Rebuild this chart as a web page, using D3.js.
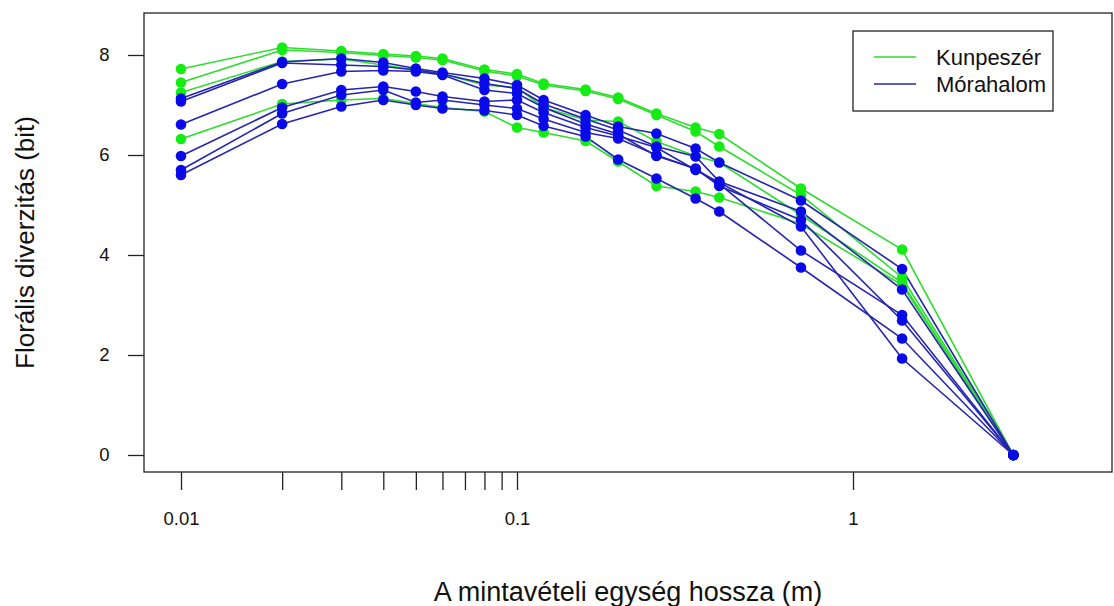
<!DOCTYPE html>
<html>
<head>
<meta charset="utf-8">
<script src="https://cdn.jsdelivr.net/npm/d3@7.9.0/dist/d3.min.js"></script>
<style>
  body { margin: 0; background: #fff; }
  text { font-family: "Liberation Sans", Arial, sans-serif; fill: #111; }
</style>
</head>
<body>
<svg id="chart" width="1114" height="606"></svg>
<script>
// sampling unit length (m)
const lengths = [0.01, 0.02, 0.03, 0.04, 0.05, 0.06, 0.08, 0.1, 0.12, 0.16, 0.2, 0.26, 0.34, 0.4, 0.7, 1.4, 3];

// Kunpeszér series
const kun1 = [7.72, 8.15, 8.08, 8.02, 7.98, 7.93, 7.71, 7.62, 7.43, 7.31, 7.15, 6.83, 6.55, 6.42, 5.33, 4.11, 0];
const kun2 = [7.45, 8.10, 8.05, 7.99, 7.95, 7.90, 7.68, 7.58, 7.40, 7.28, 7.12, 6.80, 6.47, 6.17, 5.20, 3.55, 0];
const kun3 = [7.25, 7.87, 7.92, 7.80, 7.70, 7.62, 7.40, 7.35, 6.95, 6.70, 6.67, 6.27, 5.98, 5.85, 4.80, 3.45, 0];
const kun4 = [6.32, 7.02, 7.10, 7.13, 7.03, 6.95, 6.87, 6.55, 6.45, 6.28, 5.87, 5.38, 5.27, 5.15, 4.62, 3.40, 0];

// Mórahalom series
const mor1 = [7.13, 7.86, 7.93, 7.85, 7.73, 7.65, 7.53, 7.40, 7.10, 6.80, 6.57, 6.43, 6.13, 5.85, 5.09, 3.72, 0];
const mor2 = [7.07, 7.84, 7.80, 7.77, 7.70, 7.62, 7.43, 7.33, 7.02, 6.72, 6.50, 6.17, 5.97, 5.47, 4.87, 3.31, 0];
const mor3 = [6.61, 7.42, 7.67, 7.69, 7.67, 7.60, 7.30, 7.23, 6.95, 6.62, 6.42, 5.98, 5.73, 5.38, 4.70, 2.69, 0];
const mor4 = [5.98, 6.95, 7.30, 7.37, 7.27, 7.17, 7.07, 7.10, 6.85, 6.55, 6.38, 6.15, 5.70, 5.45, 4.57, 1.93, 0];
const mor5 = [5.70, 6.83, 7.20, 7.30, 7.05, 7.10, 7.00, 6.93, 6.72, 6.45, 6.33, 6.00, 5.72, 5.42, 4.09, 2.80, 0];
const mor6 = [5.60, 6.62, 6.97, 7.10, 7.00, 6.93, 6.89, 6.80, 6.58, 6.37, 5.91, 5.53, 5.13, 4.87, 3.75, 2.33, 0];

const sites = ['Kunpeszér', 'Mórahalom'];
const xTicks = [0.01, 0.02, 0.03, 0.04, 0.05, 0.06, 0.07, 0.08, 0.09, 0.1, 1];
const xLabeled = [0.01, 0.1, 1];
const yTicks = [0, 2, 4, 6, 8];

const series = [
  { site: 0, values: kun1 }, { site: 0, values: kun2 }, { site: 0, values: kun3 }, { site: 0, values: kun4 },
  { site: 1, values: mor1 }, { site: 1, values: mor2 }, { site: 1, values: mor3 },
  { site: 1, values: mor4 }, { site: 1, values: mor5 }, { site: 1, values: mor6 }
];

const lineColor = ['#2fdc2f', '#2525b0'];
const dotColor = ['#14ec14', '#0a0ae8'];

const plotLeft = 144, plotRight = 1112, plotTop = 13, plotBottom = 472;

const svg = d3.select('#chart');

const xScale = d3.scaleLog()
  .domain([Math.pow(10, -2.1101), Math.pow(10, 0.7708)])
  .range([plotLeft, plotRight]);

const yScale = d3.scaleLinear()
  .domain([-0.34, 8.84])
  .range([plotBottom, plotTop]);

// lines + points
const line = d3.line()
  .x((d, i) => xScale(lengths[i]))
  .y(d => yScale(d));

const plot = svg.append('g');
series.forEach(s => {
  plot.append('path')
    .datum(s.values)
    .attr('d', line)
    .attr('fill', 'none')
    .attr('stroke', lineColor[s.site])
    .attr('stroke-width', 1.6);
});
series.forEach(s => {
  plot.append('g').selectAll('circle')
    .data(s.values)
    .join('circle')
    .attr('cx', (d, i) => xScale(lengths[i]))
    .attr('cy', d => yScale(d))
    .attr('r', 5.3)
    .attr('fill', dotColor[s.site]);
});

// axes
const xAxis = d3.axisBottom(xScale)
  .tickValues(xTicks)
  .tickSize(18)
  .tickPadding(22)
  .tickFormat(d => xLabeled.includes(d) ? String(d) : '');

const gx = svg.append('g')
  .attr('transform', `translate(0,${plotBottom})`)
  .call(xAxis)
  .attr('font-size', 18.5)
  .attr('font-family', null);
gx.select('.domain').remove();
gx.selectAll('line').attr('stroke', '#222').attr('stroke-width', 1.3);
gx.selectAll('text').attr('fill', '#111');

const yAxis = d3.axisLeft(yScale)
  .tickValues(yTicks)
  .tickSize(16)
  .tickPadding(18.5);

const gy = svg.append('g')
  .attr('transform', `translate(${plotLeft},0)`)
  .call(yAxis)
  .attr('font-size', 18.5)
  .attr('font-family', null);
gy.select('.domain').remove();
gy.selectAll('line').attr('stroke', '#222').attr('stroke-width', 1.3);
gy.selectAll('text').attr('fill', '#111');

// box
svg.append('rect')
  .attr('x', plotLeft).attr('y', plotTop)
  .attr('width', plotRight - plotLeft).attr('height', plotBottom - plotTop)
  .attr('fill', 'none').attr('stroke', '#222').attr('stroke-width', 1.3);

// axis titles
svg.append('text')
  .attr('x', (plotLeft + plotRight) / 2).attr('y', 601)
  .attr('text-anchor', 'middle')
  .style('font-size', '27px')
  .text('A mintavételi egység hossza (m)');

svg.append('text')
  .attr('transform', `translate(34,${(plotTop + plotBottom) / 2}) rotate(-90)`)
  .attr('text-anchor', 'middle')
  .style('font-size', '26px')
  .text('Florális diverzitás (bit)');

// legend
const legend = svg.append('g');
legend.append('rect')
  .attr('x', 853).attr('y', 31).attr('width', 200).attr('height', 80)
  .attr('fill', '#fff').attr('stroke', '#222').attr('stroke-width', 1.3);
sites.forEach((name, i) => {
  const y = 57 + i * 27;
  legend.append('line')
    .attr('x1', 874).attr('x2', 916).attr('y1', y).attr('y2', y)
    .attr('stroke', lineColor[i]).attr('stroke-width', 1.6);
  legend.append('text')
    .attr('x', 936).attr('y', y + 8)
    .style('font-size', '22px')
    .text(name);
});
</script>
</body>
</html>
